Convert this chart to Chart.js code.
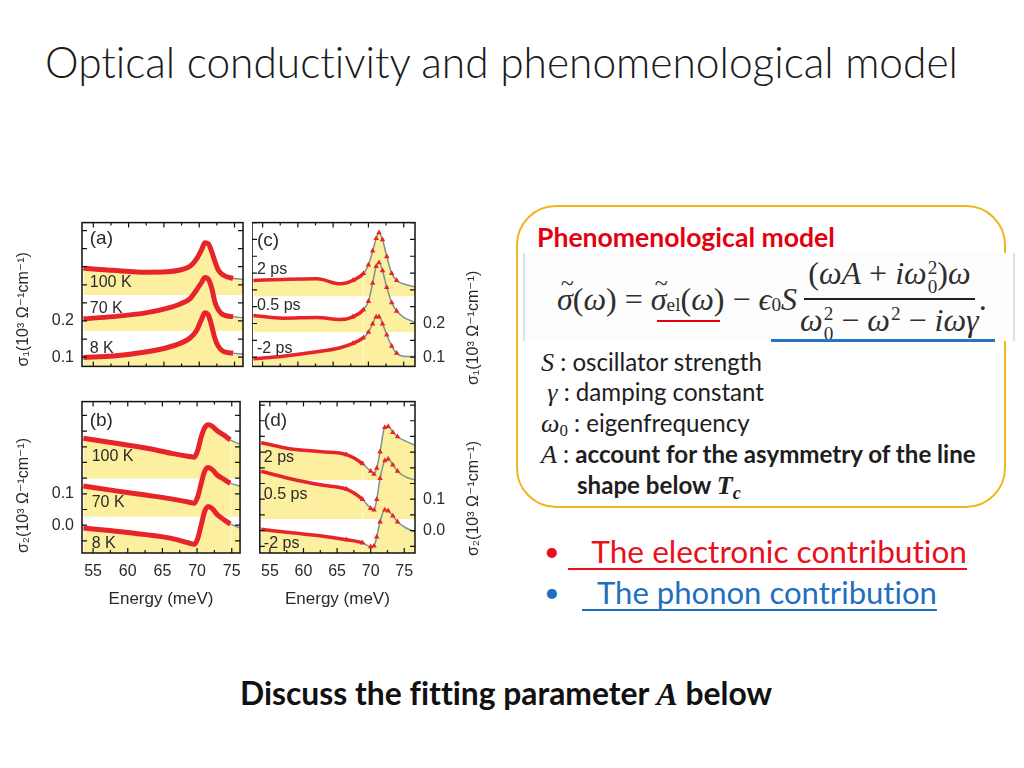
<!DOCTYPE html>
<html lang="en">
<head>
<meta charset="UTF-8" />
<title>Optical conductivity and phenomenological model</title>
<style>
  body { margin: 0; background: #fff; }
  #slide {
    position: relative;
    width: 1024px;
    height: 768px;
    overflow: hidden;
    font-family: 'Lato', 'Open Sans', sans-serif;
    font-variant-ligatures: none;
    color: #1e1e1e;
  }
  .abs { position: absolute; white-space: nowrap; }
  canvas { position: absolute; }
  #title { left: 45px; top: 36px; font-size: 40px; font-weight: 300; line-height: 52px; color: #1a1a1a; }
  #box {
    left: 516px; top: 205px; width: 490px; height: 303px;
    box-sizing: border-box;
    border: 2px solid #f2b61c;
    border-radius: 40px;
  }
  #boxHead { left: 537px; top: 223px; font-size: 21px; font-weight: 700; line-height: 28px; color: #e3000f; }
  #strip {
    left: 523px; top: 253px; width: 492px; height: 88px;
    box-sizing: border-box;
    background: #fdfdfd;
    border-left: 2px solid #d9e2ec;
    border-right: 2px solid #d9e2ec;
  }
  #eq {
    left: 557px; top: 258px; height: 82px;
    display: flex; align-items: center;
    font-family: 'Liberation Serif', 'DejaVu Serif', serif;
    font-size: 26px; color: #2e2e2e;
  }
  #eq i { font-style: italic; }
  #eq .lo { font-size: 0.6em; position: relative; top: 0.3em; }
  .tl { position: relative; }
  .tl::after {
    content: '~'; position: absolute; left: 0.16em; top: -0.42em;
    font-size: 0.75em; font-style: normal;
  }
  .ss { display: inline-block; vertical-align: middle; font-size: 0.6em; line-height: 1; margin-left: 1px; }
  .ss span { display: block; }
  .frac { display: inline-flex; flex-direction: column; align-items: center; margin-left: 3px; }
  .frac .num { padding: 0 4px 2px; border-bottom: 2.5px solid #1e1e1e; }
  .frac .den { padding-top: 2px; }
  .uline { position: absolute; }
  .item { left: 541px; font-size: 21px; line-height: 26px; color: #1e1e1e; }
  .item .v { font-family: 'Liberation Serif', 'DejaVu Serif', serif; font-style: italic; font-size: 1.08em; }
  .item .sb { font-family: 'Liberation Serif', 'DejaVu Serif', serif; font-size: 0.7em; position: relative; top: 0.25em; }
  .item b { font-weight: 700; }
  .bul { font-size: 27px; line-height: 34px; }
  .vt {
    position: absolute;
    transform-origin: left top;
    transform: rotate(-90deg);
    font-family: 'Liberation Sans', Arial, 'DejaVu Sans', sans-serif;
    font-size: 16px; line-height: 20px; color: #2a2a2a; white-space: nowrap;
  }
  #bottom { left: 0; width: 1012px; top: 676px; text-align: center; font-size: 27px; font-weight: 700; line-height: 34px; color: #111; }
  #bottom i { font-family: 'Liberation Serif', 'DejaVu Serif', serif; font-style: italic; }
</style>
</head>
<body>
<div id="slide">
  <div id="title" class="abs">Optical conductivity and phenomenological model</div>

  <canvas id="panelA" width="250" height="179" style="left:0;top:205px"></canvas>
  <canvas id="panelB" width="250" height="229" style="left:0;top:384px"></canvas>
  <canvas id="panelC" width="214" height="179" style="left:252px;top:205px"></canvas>
  <canvas id="panelD" width="214" height="229" style="left:252px;top:384px"></canvas>
  <div class="vt" style="left:463px;top:385px">σ₁(10³ Ω⁻¹cm⁻¹)</div>
  <div class="vt" style="left:463px;top:556px">σ₂(10³ Ω⁻¹cm⁻¹)</div>

  <div id="box" class="abs"></div>
  <div id="boxHead" class="abs">Phenomenological model</div>
  <div id="strip" class="abs"></div>
  <div id="eq" class="abs"><i class="tl">σ</i>(<i>ω</i>)&nbsp;=&nbsp;<i class="tl">σ</i><span class="lo">el</span>(<i>ω</i>)&nbsp;−&nbsp;<i>ϵ</i><span class="lo">0</span><i>S</i><span class="frac"><span class="num">(<i>ωA</i> + <i>iω</i><span class="ss"><span>2</span><span>0</span></span>)<i>ω</i></span><span class="den"><i>ω</i><span class="ss"><span>2</span><span>0</span></span> − <i>ω</i><span class="ss"><span>2</span><span>&nbsp;</span></span> − <i>iωγ</i></span></span>.</div>
  <div class="uline" style="left:657px;top:320px;width:63px;height:2px;background:#e3000f"></div>
  <div class="uline" style="left:771px;top:339px;width:224px;height:3px;background:#2474c4"></div>

  <div id="l1" class="abs item" style="top:349px"><span class="v">S</span> : oscillator strength</div>
  <div id="l2" class="abs item" style="top:379px">&nbsp;<span class="v">γ</span> : damping constant</div>
  <div id="l3" class="abs item" style="top:410px"><span class="v">ω</span><span class="sb">0</span> : eigenfrequency</div>
  <div id="l4" class="abs item" style="top:441px"><span class="v">A</span> : <b>account for the asymmetry of the line</b></div>
  <div id="l5" class="abs item" style="top:472px;left:577px"><b>shape below <span class="v" style="font-weight:700">T<span class="sb">c</span></span></b></div>

  <div class="abs bul" style="left:544px;top:534px;color:#e8101a">•</div>
  <div id="bul1" class="abs bul" style="left:568px;top:534px;color:#e8101a"><span style="text-decoration:underline;text-decoration-thickness:1.5px;text-underline-offset:5px">&nbsp;&nbsp;&nbsp;The electronic contribution</span></div>
  <div class="abs bul" style="left:544px;top:575px;color:#1f6fbf">•</div>
  <div id="bul2" class="abs bul" style="left:582px;top:575px;color:#1f6fbf"><span style="text-decoration:underline;text-decoration-thickness:1.5px;text-underline-offset:5px">&nbsp;&nbsp;The phonon contribution</span></div>

  <div id="bottom" class="abs"><span id="bottomText">Discuss the fitting parameter <i>A</i> below</span></div>
</div>

<script src="https://cdn.jsdelivr.net/npm/chart.js@4.4.1/dist/chart.umd.min.js"></script>
<script>
  // ---- data (energy in meV, conductivity in 10^3 Ohm^-1 cm^-1, curves offset) ----
  // (a) sigma1 vs temperature
  const energyA = [53.6, 57.8, 62.6, 65.4, 67.3, 68.7, 69.6, 70.4, 70.8, 71.3, 71.8, 72.2, 72.7, 73.4, 74.8, 76.2];
  const sigma1_100K = [0.346, 0.340, 0.335, 0.336, 0.341, 0.351, 0.371, 0.400, 0.416, 0.413, 0.390, 0.366, 0.341, 0.327, 0.318, 0.315];
  const sigma1_70K = [0.206, 0.212, 0.223, 0.235, 0.247, 0.262, 0.285, 0.309, 0.320, 0.315, 0.289, 0.254, 0.231, 0.217, 0.212, 0.209];
  const sigma1_8K = [0.099, 0.103, 0.115, 0.126, 0.138, 0.153, 0.173, 0.208, 0.223, 0.216, 0.184, 0.153, 0.130, 0.116, 0.111, 0.109];

  // (b) sigma2 vs temperature
  const energyB = [53.6, 57.8, 62.6, 66.3, 68.7, 69.6, 70.1, 70.6, 71.1, 71.6, 72.2, 72.9, 73.9, 74.8, 76.2];
  const sigma2_100K = [0.277, 0.263, 0.246, 0.229, 0.220, 0.217, 0.239, 0.282, 0.311, 0.320, 0.315, 0.301, 0.287, 0.272, 0.258];
  const sigma2_70K = [0.125, 0.111, 0.096, 0.084, 0.074, 0.070, 0.091, 0.134, 0.172, 0.184, 0.177, 0.160, 0.146, 0.134, 0.125];
  const sigma2_8K = [-0.009, -0.018, -0.030, -0.042, -0.056, -0.061, -0.042, 0.001, 0.044, 0.060, 0.053, 0.034, 0.017, 0.004, -0.009];

  // (c) sigma1 vs pump-probe delay
  const energyC = [53.7, 57.9, 62.7, 66.0, 67.8, 69.3, 70.0, 70.6, 71.1, 71.5, 72.0, 72.6, 73.3, 74.0, 74.9, 76.6];
  const sigma1_2ps = [0.328, 0.331, 0.333, 0.318, 0.328, 0.349, 0.374, 0.416, 0.453, 0.470, 0.449, 0.399, 0.349, 0.328, 0.318, 0.309];
  const sigma1_05ps = [0.224, 0.216, 0.218, 0.212, 0.220, 0.241, 0.266, 0.320, 0.370, 0.381, 0.357, 0.307, 0.262, 0.237, 0.220, 0.203];
  const sigma1_m2ps = [0.095, 0.103, 0.116, 0.128, 0.141, 0.158, 0.174, 0.199, 0.220, 0.220, 0.199, 0.166, 0.133, 0.112, 0.103, 0.102];

  // (d) sigma2 vs pump-probe delay
  const energyD = [53.7, 57.9, 62.7, 66.4, 68.8, 70.0, 70.5, 70.9, 71.4, 72.1, 72.6, 73.3, 74.0, 75.2, 76.6];
  const sigma2_2ps = [0.280, 0.261, 0.251, 0.242, 0.213, 0.189, 0.180, 0.199, 0.251, 0.329, 0.332, 0.313, 0.299, 0.285, 0.272];
  const sigma2_05ps = [0.189, 0.166, 0.145, 0.132, 0.099, 0.071, 0.066, 0.099, 0.166, 0.223, 0.228, 0.209, 0.189, 0.171, 0.161];
  const sigma2_m2ps = [0.004, -0.006, -0.017, -0.029, -0.039, -0.051, -0.049, -0.020, 0.028, 0.066, 0.063, 0.047, 0.028, 0.009, -0.004];

  // baseline each curve's shading runs down to
  const baseA = [0.272, 0.172, 0.0];
  const baseB = [0.149, 0.027, -0.2];
  const baseC = [0.281, 0.174, 0.0];
  const baseD = [0.161, 0.037, -0.2];

  const energyTicks = [55, 57.5, 60, 62.5, 65, 67.5, 70, 72.5, 75];

  const RED = '#e8242b';
  const GREY = '#7f9090';
  const YELLOW = '#fcf0a0';
  const INK = '#2a2a2a';
  const FIG_FONT = "'Liberation Sans', Arial, 'DejaVu Sans', sans-serif";

  const near = (a, b) => Math.abs(a - b) < 1e-6;
  const onStep = (v, s) => near(v / s, Math.round(v / s));

  function steps(lo, hi, s) {
    const out = [];
    for (let k = Math.ceil(lo / s - 1e-9); k * s <= hi + 1e-9; k++) out.push(+(k * s).toFixed(3));
    return out;
  }

  // draws the frame, inward tick marks and the in-panel labels
  function framePlugin(labels) {
    return {
      id: 'frame',
      afterDatasetsDraw(chart) {
        const { ctx, chartArea: a, scales: { x, y } } = chart;
        ctx.save();
        ctx.strokeStyle = '#111';
        ctx.lineWidth = 1.5;
        ctx.strokeRect(a.left, a.top, a.right - a.left, a.bottom - a.top);
        ctx.lineWidth = 1.2;
        ctx.beginPath();
        x.ticks.forEach(t => {
          const px = x.getPixelForValue(t.value);
          const len = onStep(t.value, 5) ? 5 : 3;
          ctx.moveTo(px, a.top); ctx.lineTo(px, a.top + len);
          ctx.moveTo(px, a.bottom); ctx.lineTo(px, a.bottom - len);
        });
        y.ticks.forEach(t => {
          const py = y.getPixelForValue(t.value);
          ctx.moveTo(a.left, py); ctx.lineTo(a.left + 5, py);
          ctx.moveTo(a.right, py); ctx.lineTo(a.right - 5, py);
        });
        ctx.stroke();
        ctx.fillStyle = INK;
        ctx.textAlign = 'left';
        ctx.textBaseline = 'middle';
        labels.forEach(l => {
          ctx.font = (l.text.startsWith('(') ? '19px ' : '16px ') + FIG_FONT;
          ctx.fillText(l.text, x.getPixelForValue(l.x), y.getPixelForValue(l.y));
        });
        ctx.restore();
      }
    };
  }

  function buildPanel(id, cfg) {
    const fitFrom = cfg.sparse ? 68.8 : 74.8;
    const isFit = c => c.p0.parsed.x >= fitFrom;
    const datasets = cfg.series.map((vals, k) => ({
      data: cfg.energy.map((e, i) => ({ x: e, y: vals[i] })),
      fill: { value: cfg.base[k] },
      backgroundColor: YELLOW,
      borderColor: RED,
      borderWidth: cfg.sparse ? 3.5 : 5,
      cubicInterpolationMode: 'monotone',
      pointStyle: 'triangle',
      pointRadius: c => (cfg.sparse && c.raw && c.raw.x > 66 && c.raw.x < 74.5 ? 3.2 : 0),
      pointBackgroundColor: RED,
      pointBorderColor: RED,
      pointBorderWidth: 0,
      segment: {
        borderColor: c => (isFit(c) ? GREY : RED),
        borderWidth: c => (isFit(c) ? 1.5 : (cfg.sparse ? 3.5 : 5))
      }
    }));

    new Chart(document.getElementById(id), {
      type: 'line',
      data: { datasets },
      options: {
        responsive: false,
        animation: false,
        events: [],
        layout: { padding: cfg.padding },
        plugins: {
          legend: { display: false },
          tooltip: { enabled: false },
          filler: { drawTime: 'beforeDatasetsDraw' }
        },
        scales: {
          x: {
            type: 'linear',
            min: cfg.xRange[0],
            max: cfg.xRange[1],
            border: { display: false },
            grid: { display: false, drawTicks: false },
            afterBuildTicks: s => { s.ticks = energyTicks.map(v => ({ value: v })); },
            ticks: {
              display: cfg.showX,
              autoSkip: false,
              maxRotation: 0,
              padding: 9,
              color: INK,
              font: { family: FIG_FONT, size: 16 },
              callback: v => (onStep(v, 5) ? String(v) : '')
            },
            title: {
              display: cfg.showX,
              text: 'Energy (meV)',
              color: INK,
              font: { family: FIG_FONT, size: 17 },
              padding: { top: 0, bottom: 3 }
            },
            afterFit: s => { s.height = cfg.showX ? 60 : 0; }
          },
          y: {
            type: 'linear',
            position: cfg.yPos,
            min: cfg.yRange[0],
            max: cfg.yRange[1],
            border: { display: false },
            grid: { display: false, drawTicks: false },
            afterBuildTicks: s => { s.ticks = steps(cfg.yRange[0], cfg.yRange[1], 0.05).map(v => ({ value: v })); },
            ticks: {
              autoSkip: false,
              padding: 8,
              color: INK,
              font: { family: FIG_FONT, size: 16 },
              callback: v => (cfg.yShown.some(t => near(t, v)) ? v.toFixed(1) : '')
            },
            title: {
              display: !!cfg.yTitle,
              text: cfg.yTitle || '',
              align: 'start',
              color: INK,
              font: { family: FIG_FONT, size: 16 },
              padding: { top: 14, bottom: 0 }
            },
            afterFit: s => { s.width = cfg.yPos === 'left' ? 82 : 51; }
          }
        }
      },
      plugins: [framePlugin(cfg.labels)]
    });
  }

  buildPanel('panelA', {
    energy: energyA, series: [sigma1_100K, sigma1_70K, sigma1_8K], base: baseA,
    xRange: [53.4, 76.2], yRange: [0.0744, 0.472], yShown: [0.1, 0.2],
    yPos: 'left', yTitle: 'σ₁(10³ Ω⁻¹cm⁻¹)', showX: false, sparse: false,
    padding: { top: 8, right: 7, left: 0, bottom: 0 },
    labels: [
      { text: '(a)', x: 54.5, y: 0.426 }, { text: '100 K', x: 54.5, y: 0.305 },
      { text: '70 K', x: 54.5, y: 0.235 }, { text: '8 K', x: 54.5, y: 0.123 }
    ]
  });
  buildPanel('panelB', {
    energy: energyB, series: [sigma2_100K, sigma2_70K, sigma2_8K], base: baseB,
    xRange: [53.4, 76.2], yRange: [-0.0886, 0.394], yShown: [0.0, 0.1],
    yPos: 'left', yTitle: 'σ₂(10³ Ω⁻¹cm⁻¹)', showX: true, sparse: false,
    padding: { top: 0, right: 7, left: 0, bottom: 0 },
    labels: [
      { text: '(b)', x: 54.5, y: 0.334 }, { text: '100 K', x: 54.8, y: 0.22 },
      { text: '70 K', x: 54.8, y: 0.071 }, { text: '8 K', x: 54.8, y: -0.06 }
    ]
  });
  buildPanel('panelC', {
    energy: energyC, series: [sigma1_2ps, sigma1_05ps, sigma1_m2ps], base: baseC,
    xRange: [53.5, 76.6], yRange: [0.0725, 0.5], yShown: [0.1, 0.2],
    yPos: 'right', showX: false, sparse: true,
    padding: { top: 8, right: 0, left: 0, bottom: 0 },
    labels: [
      { text: '(c)', x: 54.2, y: 0.445 }, { text: '2 ps', x: 54.2, y: 0.36 },
      { text: '0.5 ps', x: 54.2, y: 0.2525 }, { text: '-2 ps', x: 54.2, y: 0.125 }
    ]
  });
  buildPanel('panelD', {
    energy: energyD, series: [sigma2_2ps, sigma2_05ps, sigma2_m2ps], base: baseD,
    xRange: [53.5, 76.6], yRange: [-0.0714, 0.411], yShown: [0.0, 0.1],
    yPos: 'right', showX: true, sparse: true,
    padding: { top: 0, right: 0, left: 0, bottom: 0 },
    labels: [
      { text: '(d)', x: 54.1, y: 0.351 }, { text: '2 ps', x: 54.1, y: 0.231 },
      { text: '0.5 ps', x: 54.1, y: 0.114 }, { text: '-2 ps', x: 54.1, y: -0.04 }
    ]
  });

  // scale slide text so each line spans the same width as in the original
  function fitWidth(id, w) {
    const el = document.getElementById(id);
    const cur = el.getBoundingClientRect().width;
    const fs = parseFloat(getComputedStyle(el).fontSize);
    const size = fs * w / cur;
    el.style.fontSize = size.toFixed(2) + 'px';
    return size;
  }
  fitWidth('title', 913);
  fitWidth('boxHead', 298);
  fitWidth('eq', 431);
  const itemSize = fitWidth('l4', 435);
  ['l1', 'l2', 'l3', 'l5'].forEach(id => { document.getElementById(id).style.fontSize = itemSize.toFixed(2) + 'px'; });
  fitWidth('bul1', 399);
  fitWidth('bul2', 355);
  fitWidth('bottomText', 532);
</script>
</body>
</html>
